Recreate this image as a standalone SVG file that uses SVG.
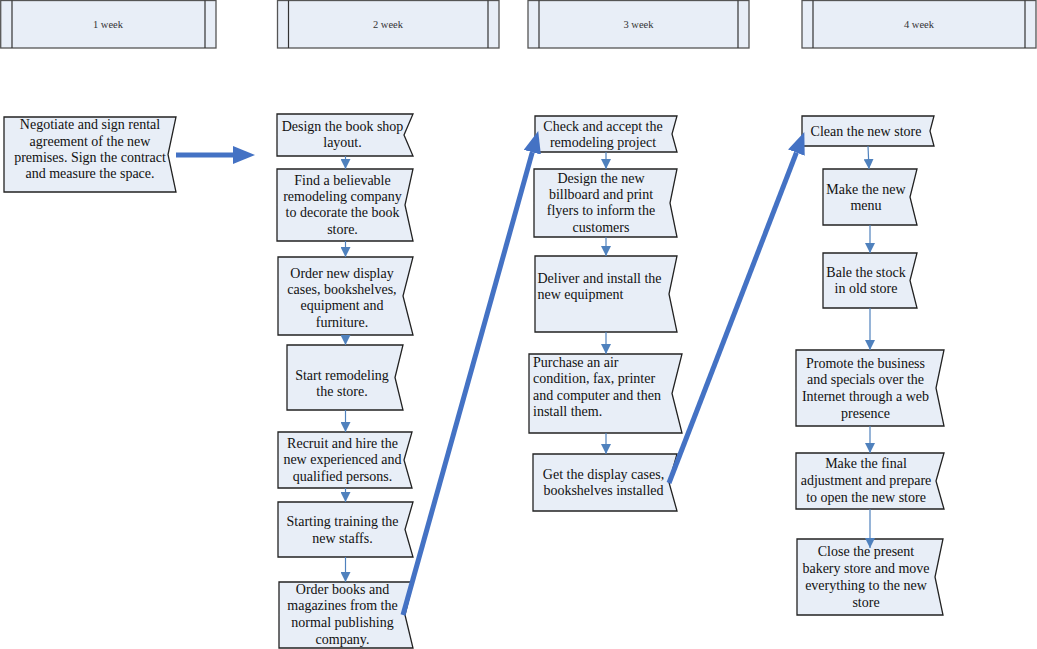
<svg xmlns="http://www.w3.org/2000/svg" width="1037" height="649" viewBox="0 0 1037 649">
<style>
.hdr{fill:#E8EEF7;stroke:#555;stroke-width:1.3}
.hl{stroke:#333;stroke-width:1.2}
.ht{font-family:"Liberation Serif",serif;font-size:10.5px;fill:#333;text-anchor:middle}
.box{fill:#E8EEF7;stroke:#222;stroke-width:1.3}
.t{font-family:"Liberation Serif",serif;font-size:14px;fill:#111;text-anchor:middle}
.tl{font-family:"Liberation Serif",serif;font-size:14px;fill:#111;text-anchor:start}
.c{stroke:#4F81BD;stroke-width:1.2;fill:none;marker-end:url(#sa)}
.big{stroke:#4472C4;stroke-width:5;fill:none;marker-end:url(#ba)}
</style>
<defs>
<marker id="sa" markerUnits="userSpaceOnUse" markerWidth="10" markerHeight="10" refX="7" refY="3.5" orient="auto" viewBox="0 0 7 7"><path d="M0,0 L7,3.5 L0,7 z" fill="#4F81BD"/></marker>
<marker id="ba" markerUnits="userSpaceOnUse" markerWidth="22" markerHeight="18" refX="0" refY="8.5" orient="auto" viewBox="0 0 21 17"><path d="M0,0 L21,8.5 L0,17 z" fill="#4472C4"/></marker>
</defs>
<rect width="1037" height="649" fill="#fff"/>

<g id="headers">
<g id="h1"><rect class="hdr" x="0.7" y="0.5" width="215.3" height="47.5"/><line class="hl" x1="12" y1="0.5" x2="12" y2="48"/><line class="hl" x1="205" y1="0.5" x2="205" y2="48"/><text class="ht" x="108" y="27.5">1 week</text></g>
<g id="h2"><rect class="hdr" x="277.5" y="0.5" width="221.5" height="47.5"/><line class="hl" x1="288.5" y1="0.5" x2="288.5" y2="48"/><line class="hl" x1="488" y1="0.5" x2="488" y2="48"/><text class="ht" x="388" y="27.5">2 week</text></g>
<g id="h3"><rect class="hdr" x="528" y="0.5" width="221" height="47.5"/><line class="hl" x1="539" y1="0.5" x2="539" y2="48"/><line class="hl" x1="738" y1="0.5" x2="738" y2="48"/><text class="ht" x="638.5" y="27.5">3 week</text></g>
<g id="h4"><rect class="hdr" x="802" y="0.5" width="234" height="47.5"/><line class="hl" x1="813" y1="0.5" x2="813" y2="48"/><line class="hl" x1="1025" y1="0.5" x2="1025" y2="48"/><text class="ht" x="919" y="27.5">4 week</text></g>
</g>

<g id="n1"><path class="box" d="M4,117 H176 L168,154.5 L176,192 H4 Z"/>
<text class="t" x="90"><tspan x="90" y="129">Negotiate and sign rental</tspan><tspan x="90" y="145.5">agreement of the new</tspan><tspan x="90" y="162">premises. Sign the contract</tspan><tspan x="90" y="178">and measure the space.</tspan></text></g>

<g id="n2a"><path class="box" d="M277,114 H413 L404,135 L413,156 H277 Z"/>
<text class="t"><tspan x="342.5" y="130.5">Design the book shop</tspan><tspan x="342.5" y="147">layout.</tspan></text></g>
<g id="n2b"><path class="box" d="M277,169 H413 L405,205 L413,241 H277 Z"/>
<text class="t"><tspan x="342.5" y="184.5">Find a believable</tspan><tspan x="342.5" y="201">remodeling company</tspan><tspan x="342.5" y="217">to decorate the book</tspan><tspan x="342.5" y="233.5">store.</tspan></text></g>
<g id="n2c"><path class="box" d="M278,257 H413 L403,296 L413,335 H278 Z"/>
<text class="t"><tspan x="342" y="277.5">Order new display</tspan><tspan x="342" y="294">cases, bookshelves,</tspan><tspan x="342" y="310">equipment and</tspan><tspan x="342" y="326.5">furniture.</tspan></text></g>
<g id="n2d"><path class="box" d="M287,345 H403 L395,377.5 L403,410 H287 Z"/>
<text class="t"><tspan x="342" y="379.5">Start remodeling</tspan><tspan x="342" y="396">the store.</tspan></text></g>
<g id="n2e"><path class="box" d="M278,432 H412 L404,460 L412,488 H278 Z"/>
<text class="t"><tspan x="342.5" y="447.5">Recruit and hire the</tspan><tspan x="342.5" y="464">new experienced and</tspan><tspan x="342.5" y="480.5">qualified persons.</tspan></text></g>
<g id="n2f"><path class="box" d="M278,502 H413 L405,529.5 L413,557 H278 Z"/>
<text class="t"><tspan x="342.5" y="526">Starting training the</tspan><tspan x="342.5" y="542.5">new staffs.</tspan></text></g>
<g id="n2g"><path class="box" d="M279,582 H413 L405,615 L413,648 H279 Z"/>
<text class="t"><tspan x="342.5" y="593.5">Order books and</tspan><tspan x="342.5" y="610">magazines from the</tspan><tspan x="342.5" y="627">normal publishing</tspan><tspan x="342.5" y="643.5">company.</tspan></text></g>

<g id="n3a"><path class="box" d="M535,116 H677 L672,134 L677,152 H535 Z"/>
<text class="t"><tspan x="603" y="130.5">Check and accept the</tspan><tspan x="603" y="146.5">remodeling project</tspan></text></g>
<g id="n3b"><path class="box" d="M534,169 H677 L670,203 L677,237 H534 Z"/>
<text class="t"><tspan x="601" y="182.5">Design the new</tspan><tspan x="601" y="199">billboard and print</tspan><tspan x="601" y="215">flyers to inform the</tspan><tspan x="601" y="231.5">customers</tspan></text></g>
<g id="n3c"><path class="box" d="M535,256 H677 L669,294 L677,332 H535 Z"/>
<text class="tl"><tspan x="537.5" y="282.5">Deliver and install the</tspan><tspan x="537.5" y="299">new equipment</tspan></text></g>
<g id="n3d"><path class="box" d="M529,354 H682 L672,393.5 L682,433 H529 Z"/>
<text class="tl"><tspan x="533" y="366.5">Purchase an air</tspan><tspan x="533" y="383">condition, fax, printer</tspan><tspan x="533" y="399.5">and computer and then</tspan><tspan x="533" y="416">install them.</tspan></text></g>
<g id="n3e"><path class="box" d="M533,454 H677 L669,482.5 L677,511 H533 Z"/>
<text class="t"><tspan x="603.5" y="478.5">Get the display cases,</tspan><tspan x="603.5" y="495">bookshelves installed</tspan></text></g>

<g id="n4a"><path class="box" d="M802,116 H934 L930,131 L934,146 H802 Z"/>
<text class="t"><tspan x="866" y="135.5">Clean the new store</tspan></text></g>
<g id="n4b"><path class="box" d="M823,169 H917 L910,197 L917,225 H823 Z"/>
<text class="t"><tspan x="866" y="193.5">Make the new</tspan><tspan x="866" y="210">menu</tspan></text></g>
<g id="n4c"><path class="box" d="M823,253 H917 L910,280.5 L917,308 H823 Z"/>
<text class="t"><tspan x="866" y="276.5">Bale the stock</tspan><tspan x="866" y="293">in old store</tspan></text></g>
<g id="n4d"><path class="box" d="M796,350 H944 L936,388 L944,426 H796 Z"/>
<text class="t"><tspan x="865.5" y="367.5">Promote the business</tspan><tspan x="865.5" y="384">and specials over the</tspan><tspan x="865.5" y="401">Internet through a web</tspan><tspan x="865.5" y="417.5">presence</tspan></text></g>
<g id="n4e"><path class="box" d="M796,453 H944 L936,481 L944,509 H796 Z"/>
<text class="t"><tspan x="866" y="467.5">Make the final</tspan><tspan x="866" y="485">adjustment and prepare</tspan><tspan x="866" y="501.5">to open the new store</tspan></text></g>
<g id="n4f"><path class="box" d="M797,539 H943 L935,577 L943,615 H797 Z"/>
<text class="t"><tspan x="866" y="555.5">Close the present</tspan><tspan x="866" y="572.5">bakery store and move</tspan><tspan x="866" y="590">everything to the new</tspan><tspan x="866" y="606.5">store</tspan></text></g>

<g id="connectors">
<line class="c" x1="345.5" y1="156" x2="345.5" y2="169"/>
<line class="c" x1="345.5" y1="241" x2="345.5" y2="257"/>
<line class="c" x1="345.5" y1="335" x2="345.5" y2="345"/>
<line class="c" x1="345.5" y1="410" x2="345.5" y2="432"/>
<line class="c" x1="345.5" y1="488" x2="345.5" y2="502"/>
<line class="c" x1="345.5" y1="557" x2="345.5" y2="582"/>
<line class="c" x1="606" y1="152" x2="606" y2="169"/>
<line class="c" x1="606" y1="237" x2="606" y2="256"/>
<line class="c" x1="606" y1="332" x2="606" y2="354"/>
<line class="c" x1="606" y1="433" x2="606" y2="454"/>
<line class="c" x1="868" y1="146" x2="869" y2="169"/>
<line class="c" x1="870" y1="225" x2="870" y2="253"/>
<line class="c" x1="870" y1="308" x2="870" y2="350"/>
<line class="c" x1="870" y1="426" x2="870" y2="453"/>
<line class="c" x1="870" y1="509" x2="870" y2="548"/>
<line class="big" x1="176" y1="155" x2="233" y2="155"/>
<line class="big" x1="403" y1="615" x2="532.3" y2="152.2"/>
<line class="big" x1="669" y1="483" x2="796.4" y2="152.6"/>
</g>
</svg>
